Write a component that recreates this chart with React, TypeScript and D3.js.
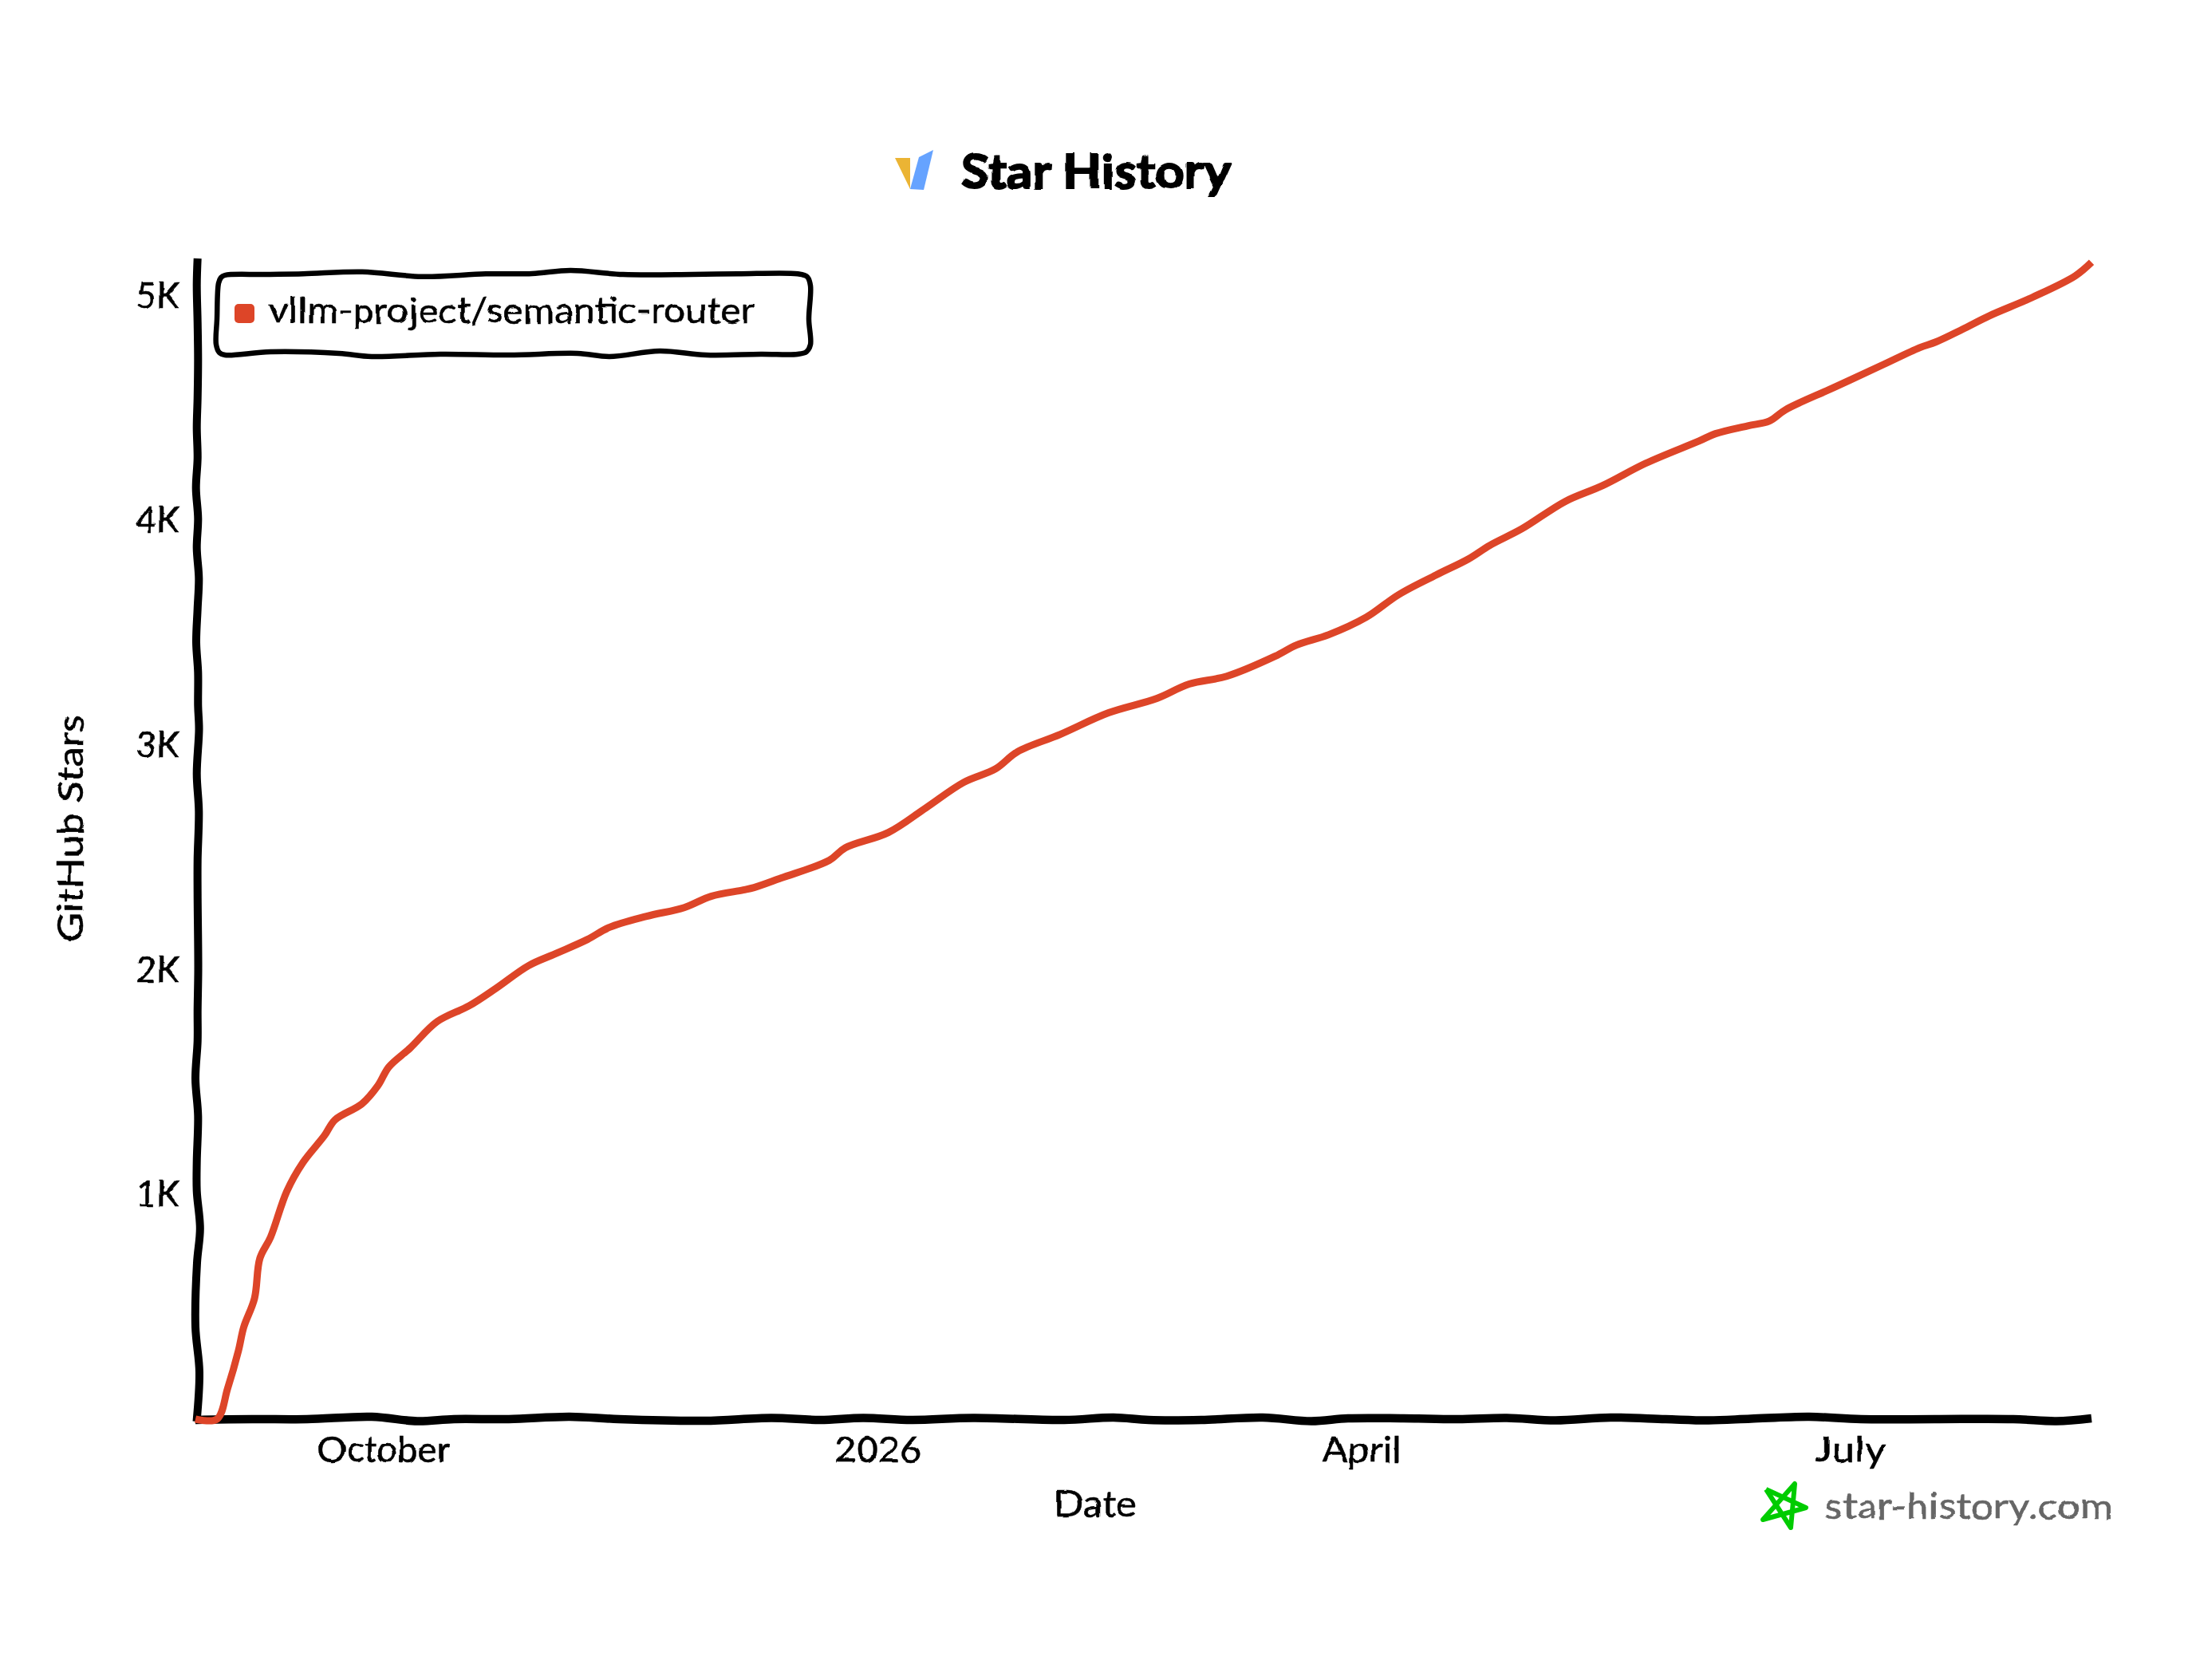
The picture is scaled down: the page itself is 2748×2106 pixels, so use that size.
import React, { useEffect, useRef } from 'react';
import * as d3 from 'd3';

// stars per date
const starDates = [
  '2025-08-27', '2025-08-31', '2025-09-02', '2025-09-04', '2025-09-05', '2025-09-07', '2025-09-08', '2025-09-10',
  '2025-09-13', '2025-09-16', '2025-09-20', '2025-09-22', '2025-09-27', '2025-09-30', '2025-10-02', '2025-10-06',
  '2025-10-11', '2025-10-17', '2025-10-22', '2025-10-28', '2025-11-02', '2025-11-08', '2025-11-12', '2025-11-19',
  '2025-11-26', '2025-12-01', '2025-12-07', '2025-12-09', '2025-12-14', '2025-12-23', '2025-12-26', '2026-01-03',
  '2026-01-10', '2026-01-17', '2026-01-23', '2026-01-27', '2026-02-04', '2026-02-13', '2026-02-22', '2026-02-28',
  '2026-03-07', '2026-03-16', '2026-03-20', '2026-03-26', '2026-04-02', '2026-04-08', '2026-04-15', '2026-04-21',
  '2026-04-25', '2026-05-01', '2026-05-09', '2026-05-16', '2026-05-24', '2026-06-03', '2026-06-06', '2026-06-12',
  '2026-06-16', '2026-06-19', '2026-06-28', '2026-07-07', '2026-07-14', '2026-07-17', '2026-07-22', '2026-07-27',
  '2026-08-04', '2026-08-12', '2026-08-15',
];
const starCounts = [
  0, 0, 137, 304, 410, 538, 716, 811,
  1014, 1142, 1262, 1333, 1404, 1486, 1568, 1653,
  1770, 1841, 1919, 2019, 2072, 2136, 2189, 2239,
  2278, 2328, 2356, 2367, 2409, 2488, 2544, 2612,
  2722, 2835, 2896, 2971, 3049, 3145, 3209, 3273,
  3308, 3397, 3447, 3493, 3571, 3671, 3759, 3830,
  3891, 3965, 4086, 4157, 4256, 4356, 4388, 4423,
  4444, 4494, 4593, 4693, 4771, 4796, 4853, 4913,
  4995, 5091, 5151,
];

const xTickDates = ['2025-10-01', '2026-01-01', '2026-04-01', '2026-07-01'];
const xTickLabels = ['October', '2026', 'April', 'July'];
const xTickWidths = [166, 109, 100, 90];
const yTickValues = [1000, 2000, 3000, 4000, 5000];

const repoName = 'vllm-project/semantic-router';
const lineColor = '#dd4528';
const fontFamily = 'Lato, "Noto Sans", sans-serif';

// hand drawn wobble of the axes: [place along the axis, offset from it]
const xAxisWobble = [
  [245, 1], [316, 0], [385, 0], [466, -3], [523, 2.5], [569, 0], [638, 0], [714, -3], [776, 0], [883, 2], [967, -1.5],
  [1028, 1], [1082, -1.5], [1143, 1], [1220, -1.5], [1334, 1], [1396, -2], [1440, 1], [1506, 1], [1583, -2], [1644, 2.5],
  [1690, -1], [1759, -1], [1828, 0], [1889, -1.5], [1950, 1.5], [2019, -2], [2088, 0], [2142, 1.5], [2195, -0.5],
  [2268, -3], [2333, 0], [2425, 0], [2524, 0], [2578, 2.5], [2622, -1],
];
const yAxisWobble = [
  [324, 0.2], [357, -0.8], [404, 0.2], [451, 0.8], [499, 0.2], [536, -0.8], [574, 0.2], [612, -1.8], [650, 0.8],
  [687, -0.8], [725, 1.8], [763, 0.2], [805, -1.5], [843, 0.8], [885, 0.8], [914, 2], [970, -0.8], [1017, 1.8],
  [1078, 0.2], [1121, 0.2], [1215, 1], [1267, 0.2], [1305, 0.2], [1352, -2.5], [1399, 0.8], [1456, -0.8], [1493, -0.8],
  [1540, 3.3], [1583, -0.5], [1663, -2.5], [1720, 2.5], [1782, -1],
];
const legendOutline = [
  [282, 345], [330, 344], [380, 343.3], [454, 340.7], [529, 346.7], [609, 343.3], [667, 343], [715, 339], [781, 344],
  [868, 344], [925, 343.3], [1000, 343.3], [1012, 347], [1016, 358], [1014, 400], [1016, 432], [1011, 441], [1000, 444],
  [954, 444], [885, 445], [827, 440], [764, 447], [724, 443], [638, 445], [552, 444], [466, 447], [425, 443], [339, 441],
  [282, 445], [275, 442], [271, 432], [272, 400], [274, 355], [277, 348],
];
const starOutline = [[2214, 1867], [2264, 1890], [2210, 1905], [2250, 1860], [2245, 1915], [2214, 1867]];

const App: React.FC = () => {
  const svgRef = useRef<SVGSVGElement | null>(null);

  useEffect(() => {
    if (!svgRef.current) return;
    const svg = d3.select(svgRef.current);
    svg.selectAll('*').remove();

    const width = 2748;
    const height = 2106;
    svg.attr('width', width).attr('height', height).attr('viewBox', `0 0 ${width} ${height}`);
    svg.append('rect').attr('width', width).attr('height', height).attr('fill', '#fff');

    // wobbly pen for the text
    const defs = svg.append('defs');
    const pen = defs.append('filter').attr('id', 'pen').attr('x', '-5%').attr('y', '-20%').attr('width', '110%').attr('height', '140%');
    pen.append('feTurbulence').attr('type', 'fractalNoise').attr('baseFrequency', 0.035).attr('numOctaves', 2).attr('seed', 4).attr('result', 'n');
    pen.append('feDisplacementMap').attr('in', 'SourceGraphic').attr('in2', 'n').attr('scale', 5).attr('xChannelSelector', 'R').attr('yChannelSelector', 'G');

    const parseDate = d3.utcParse('%Y-%m-%d');
    const dates = starDates.map(d => parseDate(d) as Date);

    const xScale = d3.scaleUtc().domain([dates[0], dates[dates.length - 1]]).range([245, 2622]);
    const yScale = d3.scaleLinear().domain([0, 5161]).range([1779, 326]);

    const setText = (sel: any, size: number) =>
      sel.attr('font-family', fontFamily).attr('font-size', size).attr('fill', '#000').attr('stroke', '#000').attr('stroke-width', 0.5);

    // x axis
    const tickDates = xTickDates.map(d => parseDate(d) as Date);
    const xAxis = svg.append('g')
      .attr('transform', 'translate(0,1778)')
      .call(
        d3.axisBottom(xScale)
          .tickValues(tickDates)
          .tickSize(0)
          .tickPadding(24)
          .tickFormat((_, i) => xTickLabels[i]) as any
      );
    xAxis.select('.domain').remove();
    setText(xAxis.selectAll('text'), 44);
    xAxis.selectAll('text')
      .attr('textLength', (_, i) => xTickWidths[i])
      .attr('lengthAdjust', 'spacingAndGlyphs')
      .attr('filter', 'url(#pen)');

    // y axis
    const yAxis = svg.append('g')
      .attr('transform', 'translate(225,0)')
      .call(
        d3.axisLeft(yScale)
          .tickValues(yTickValues)
          .tickSize(0)
          .tickPadding(0)
          .tickFormat(d => `${+d / 1000}K`) as any
      );
    yAxis.select('.domain').remove();
    setText(yAxis.selectAll('text'), 44);
    yAxis.selectAll('text').attr('filter', 'url(#pen)');

    // hand drawn axis lines
    const sketch = d3.line().curve(d3.curveCatmullRom);
    svg.append('path')
      .attr('d', sketch(xAxisWobble.map(([x, o]) => [x, yScale(0) + o] as [number, number])))
      .attr('fill', 'none').attr('stroke', '#000').attr('stroke-width', 10.5);
    svg.append('path')
      .attr('d', sketch(yAxisWobble.map(([y, o]) => [xScale(dates[0]) + 2.5 + o, y] as [number, number])))
      .attr('fill', 'none').attr('stroke', '#000').attr('stroke-width', 10);

    // star line
    const line = d3.line<number>()
      .x((_, i) => xScale(dates[i]))
      .y(d => yScale(d))
      .curve(d3.curveCatmullRom.alpha(0.5));
    svg.append('path')
      .datum(starCounts)
      .attr('d', line)
      .attr('fill', 'none')
      .attr('stroke', lineColor)
      .attr('stroke-width', 9);

    // legend
    svg.append('path')
      .attr('d', d3.line().curve(d3.curveCatmullRomClosed)(legendOutline as [number, number][]))
      .attr('fill', '#fff').attr('stroke', '#000').attr('stroke-width', 6.5);
    svg.append('rect')
      .attr('x', 294).attr('y', 381).attr('width', 25).attr('height', 24).attr('rx', 5)
      .attr('fill', lineColor);
    setText(svg.append('text'), 44)
      .attr('x', 337).attr('y', 405)
      .attr('textLength', 609).attr('lengthAdjust', 'spacingAndGlyphs')
      .attr('filter', 'url(#pen)')
      .text(repoName);

    // title and logo
    svg.append('polygon').attr('points', '1122,198 1141,198 1141,237').attr('fill', '#ebb434');
    svg.append('polygon').attr('points', '1141,237 1152,197 1170,188 1158,238').attr('fill', '#66a3ff');
    setText(svg.append('text'), 60)
      .attr('x', 1205).attr('y', 236)
      .attr('font-weight', 700).attr('stroke-width', 2)
      .attr('textLength', 337).attr('lengthAdjust', 'spacingAndGlyphs')
      .attr('filter', 'url(#pen)')
      .text('Star History');

    // axis titles
    setText(svg.append('text'), 44)
      .attr('x', 1321).attr('y', 1901)
      .attr('textLength', 104).attr('lengthAdjust', 'spacingAndGlyphs')
      .attr('filter', 'url(#pen)')
      .text('Date');
    const yTitle = svg.append('g').attr('filter', 'url(#pen)');
    setText(yTitle.append('text'), 44)
      .attr('transform', 'translate(104,1181) rotate(-90)')
      .attr('textLength', 285).attr('lengthAdjust', 'spacingAndGlyphs')
      .text('GitHub Stars');

    // watermark
    svg.append('path')
      .attr('d', d3.line()(starOutline as [number, number][]))
      .attr('fill', 'none').attr('stroke', '#00cc00').attr('stroke-width', 6).attr('stroke-linejoin', 'round');
    setText(svg.append('text'), 44)
      .attr('x', 2288).attr('y', 1904)
      .attr('fill', '#666').attr('stroke', '#666')
      .attr('textLength', 361).attr('lengthAdjust', 'spacingAndGlyphs')
      .attr('filter', 'url(#pen)')
      .text('star-history.com');
  }, []);

  return <svg ref={svgRef} style={{ position: 'absolute', top: 0, left: 0, display: 'block' }} />;
};

export default App;
